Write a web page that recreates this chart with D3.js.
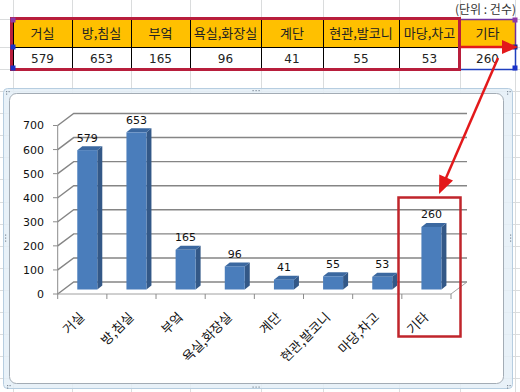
<!DOCTYPE html>
<html>
<head>
<meta charset="utf-8">
<script src="https://cdn.jsdelivr.net/npm/d3@7"></script>
<style>
body { margin: 0; background: #fff; }
svg { display: block; }
</style>
</head>
<body>
<div class="sheet"></div>
<script>
// data
const categories = ["거실", "방,침실", "부엌", "욕실,화장실", "계단", "현관,발코니", "마당,차고", "기타"];
const counts = [579, 653, 165, 96, 41, 55, 53, 260];
const yTicks = [0, 100, 200, 300, 400, 500, 600, 700];
const unitLabel = "(단위 : 건수)";

const W = 520, H = 392;
const kr = "'Noto Sans CJK KR', 'Noto Sans', sans-serif";
const red = "#e3191b";

var svg = d3.select('.sheet')
    .append('svg')
    .attr("width", W)
    .attr("height", H);

// spreadsheet grid behind everything
const colEdges = [13, 72, 131, 190, 261, 323, 399, 460, 515];
const rowLines = [19, 47, 69, 91, 113, 135, 157, 179, 202, 224, 246, 268, 290, 312, 334, 356, 378];

var grid = svg.append("g").attr("stroke", "#dadcdd").attr("stroke-width", 1);
colEdges.forEach(function (cx) {
    grid.append("line").attr("x1", cx + 0.5).attr("x2", cx + 0.5).attr("y1", 0).attr("y2", H);
});
rowLines.forEach(function (ry) {
    grid.append("line").attr("x1", 0).attr("x2", W).attr("y1", ry + 0.5).attr("y2", ry + 0.5);
});

// unit label
svg.append("text")
    .attr("x", 516).attr("y", 14)
    .attr("text-anchor", "end")
    .style("font-family", kr).style("font-size", "12px").style("fill", "#333")
    .text(unitLabel);

// ---------- table ----------
var table = svg.append("g");
var rowTop = 19, rowMid = 47, rowBot = 69;

categories.forEach(function (c, i) {
    var x0 = colEdges[i], x1 = colEdges[i + 1];
    table.append("rect")
        .attr("x", x0).attr("y", rowTop).attr("width", x1 - x0).attr("height", rowMid - rowTop)
        .attr("fill", "#ffc000");
    table.append("rect")
        .attr("x", x0).attr("y", rowMid).attr("width", x1 - x0).attr("height", rowBot - rowMid)
        .attr("fill", "#fff");
    table.append("text")
        .attr("x", (x0 + x1) / 2).attr("y", 38)
        .attr("text-anchor", "middle")
        .style("font-family", kr).style("font-size", "13px").style("fill", "#222")
        .text(c);
    table.append("text")
        .attr("x", (x0 + x1) / 2).attr("y", 63)
        .attr("text-anchor", "middle")
        .style("font-family", "'DejaVu Sans', sans-serif").style("font-size", "12px").style("fill", "#222")
        .text(counts[i]);
});

// cell borders
var borders = table.append("g").attr("stroke", "#000").attr("stroke-width", 1);
colEdges.slice(0, 8).forEach(function (cx) {
    borders.append("line").attr("x1", cx + 0.5).attr("x2", cx + 0.5).attr("y1", rowTop).attr("y2", rowBot);
});
[rowTop, rowMid, rowBot].forEach(function (ry) {
    borders.append("line").attr("x1", 13).attr("x2", 460).attr("y1", ry + 0.5).attr("y2", ry + 0.5);
});
borders.append("line").attr("x1", 460).attr("x2", 515).attr("y1", rowMid + 0.5).attr("y2", rowMid + 0.5);

// selection outlines of the last column
table.append("path")
    .attr("d", "M460,19.5 H515.5 V47")
    .attr("fill", "none").attr("stroke", "#7030a0").attr("stroke-width", 1.5);
table.append("path")
    .attr("d", "M515.5,47 V69.5 H460")
    .attr("fill", "none").attr("stroke", "#1f3fbf").attr("stroke-width", 1.5);

// red outline around the first 8 columns
table.append("rect")
    .attr("x", 11.5).attr("y", 18.5).attr("width", 448).attr("height", 51)
    .attr("fill", "none").attr("stroke", "#b81e3c").attr("stroke-width", 3);

// handles
[[13, 20, "#8b3aa8"], [13, 47, "#1a32c8"], [13, 68, "#1a32c8"],
 [515, 20, "#8b3aa8"], [515, 47, "#1a2a8c"], [515, 68, "#1a32c8"]].forEach(function (h) {
    table.append("rect")
        .attr("x", h[0] - 2.5).attr("y", h[1] - 2.5).attr("width", 5).attr("height", 5)
        .attr("fill", h[2]);
});

// ---------- chart frame ----------
svg.append("rect")
    .attr("x", 3.5).attr("y", 88.5).attr("width", 509).attr("height", 300).attr("rx", 4)
    .attr("fill", "#e4eff7").attr("fill-opacity", 0.85)
    .attr("stroke", "#b6cde0");
svg.append("rect")
    .attr("x", 9.5).attr("y", 93.5).attr("width", 494).attr("height", 290).attr("rx", 7)
    .attr("fill", "#fff").attr("stroke", "#a3acb5");

// frame handle dots
var dots = svg.append("g").attr("fill", "#7f8c99");
function dotRow(cx, cy, horizontal) {
    [-2, 0, 2].forEach(function (o) {
        dots.append("rect")
            .attr("x", horizontal ? cx + o * 1.5 - 0.5 : cx - 0.5)
            .attr("y", horizontal ? cy - 0.5 : cy + o * 1.5 - 0.5)
            .attr("width", 1.2).attr("height", 1.2);
    });
}
dotRow(256, 90.5, true);
dotRow(256, 387, true);
dotRow(5.5, 238, false);
dotRow(510.5, 238, false);
[[6, 91], [507, 91], [7, 385], [507, 385]].forEach(function (p) {
    dots.append("rect").attr("x", p[0]).attr("y", p[1]).attr("width", 1.2).attr("height", 1.2);
    dots.append("rect").attr("x", p[0] + 2.5).attr("y", p[1]).attr("width", 1.2).attr("height", 1.2);
    dots.append("rect").attr("x", p[0]).attr("y", p[1] + 2.5).attr("width", 1.2).attr("height", 1.2);
});

// ---------- 3D column chart ----------
var x = d3.scaleBand()
    .domain(categories)
    .range([57.7, 451]);

var y = d3.scaleLinear()
    .domain([0, 700])
    .range([294, 125.5]);

var wallDx = 16, wallDy = -12;   // back wall offset
var barDx = 5, barDy = -4.5;     // bars sit a bit into the floor
var barW = 20, sideDx = 5, sideDy = -4;

var chart = svg.append("g");

// gridlines with left wall diagonals
yTicks.forEach(function (t) {
    var yy = y(t);
    chart.append("path")
        .attr("d", "M57.7," + yy + " L" + (57.7 + wallDx) + "," + (yy + wallDy) + " L" + (451 + wallDx) + "," + (yy + wallDy))
        .attr("fill", "none")
        .attr("stroke", "#858585")
        .attr("stroke-width", 1.4);
});

// floor front + right edge
chart.append("path")
    .attr("d", "M57.7," + y(0) + " L451," + y(0) + " L" + (451 + wallDx) + "," + (y(0) + wallDy))
    .attr("fill", "none").attr("stroke", "#a0a0a0").attr("stroke-width", 1);

// y axis line + ticks + labels
chart.append("line")
    .attr("x1", 57.7).attr("x2", 57.7).attr("y1", y(0)).attr("y2", y(700))
    .attr("stroke", "#8c8c8c");
yTicks.forEach(function (t) {
    chart.append("line")
        .attr("x1", 53).attr("x2", 57.7).attr("y1", y(t)).attr("y2", y(t))
        .attr("stroke", "#8c8c8c");
    chart.append("text")
        .attr("x", 44).attr("y", y(t)).attr("dy", "0.36em")
        .attr("text-anchor", "end")
        .style("font-family", "'DejaVu Sans', sans-serif").style("font-size", "11px").style("fill", "#111")
        .text(t);
});

// x ticks
var edges = categories.map(function (c) { return x(c); }).concat([x.range()[1]]);
edges.forEach(function (ex) {
    chart.append("line")
        .attr("x1", ex).attr("x2", ex).attr("y1", y(0)).attr("y2", y(0) + 5)
        .attr("stroke", "#8c8c8c");
});

// bars
categories.forEach(function (c, i) {
    var v = counts[i];
    var fx = x(c) + (x.bandwidth() - barW) / 2 + barDx;
    var ty = y(v) + barDy;
    var by = y(0) + barDy;
    var g = chart.append("g");
    g.append("polygon")
        .attr("points", [[fx + barW, ty], [fx + barW + sideDx, ty + sideDy], [fx + barW + sideDx, by + sideDy], [fx + barW, by]].join(" "))
        .attr("fill", "#335887");
    g.append("polygon")
        .attr("points", [[fx, ty], [fx + sideDx, ty + sideDy], [fx + barW + sideDx, ty + sideDy], [fx + barW, ty]].join(" "))
        .attr("fill", "#3b68a0");
    g.append("rect")
        .attr("x", fx).attr("y", ty).attr("width", barW).attr("height", by - ty)
        .attr("fill", "#4a7dbb");
    g.append("text")
        .attr("x", fx + barW / 2).attr("y", ty - 8.5)
        .attr("text-anchor", "middle")
        .style("font-family", "'DejaVu Sans', sans-serif").style("font-size", "11px").style("fill", "#111")
        .text(v);
});

// category labels
categories.forEach(function (c) {
    var cx = x(c) + x.bandwidth() / 2;
    chart.append("text")
        .attr("transform", "translate(" + (cx + 3) + "," + 318 + ") rotate(-45)")
        .attr("text-anchor", "end")
        .style("font-family", kr).style("font-size", "13px").style("fill", "#111")
        .text(c);
});

// ---------- annotations ----------
function arrow(x1, y1, x2, y2, headLen, headHalf) {
    var dx = x2 - x1, dy = y2 - y1, len = Math.sqrt(dx * dx + dy * dy);
    var ux = dx / len, uy = dy / len;
    var bx = x2 - ux * headLen, by = y2 - uy * headLen;
    svg.append("line")
        .attr("x1", x1).attr("y1", y1).attr("x2", bx + ux).attr("y2", by + uy)
        .attr("stroke", red).attr("stroke-width", 2.5);
    svg.append("polygon")
        .attr("points", [[x2, y2], [bx - uy * headHalf, by + ux * headHalf], [bx + uy * headHalf, by - ux * headHalf]].join(" "))
        .attr("fill", red);
}
arrow(461, 47, 518, 47, 16, 7);
arrow(498, 58, 439, 194, 18, 7.5);

// red box around the last category
svg.append("rect")
    .attr("x", 398.5).attr("y", 197.5).attr("width", 62).attr("height", 139)
    .attr("fill", "none").attr("stroke", "#c0252b").attr("stroke-width", 2.5);
</script>
</body>
</html>
